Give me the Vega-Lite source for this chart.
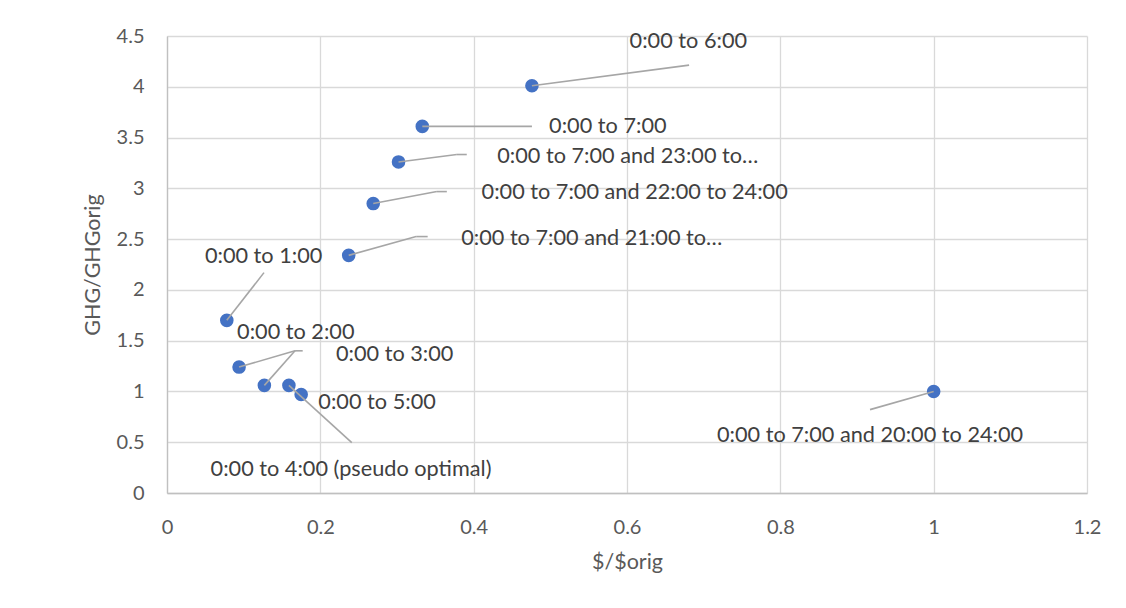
{
  "$schema": "https://vega.github.io/schema/vega-lite/v6.json",
  "width": 920,
  "height": 457,
  "autosize": {"type": "none"},
  "padding": {"left": 167, "top": 36, "right": 39, "bottom": 115},
  "background": "white",
  "config": {
    "view": {"stroke": null},
    "font": "Lato",
    "axis": {
      "gridColor": "#d9d9d9",
      "gridWidth": 1.3,
      "domainColor": "#c0c0c0",
      "domainWidth": 1.3,
      "ticks": false,
      "labelFont": "Lato",
      "labelFontSize": 20,
      "labelColor": "#595959",
      "titleFont": "Lato",
      "titleFontSize": 21.5,
      "titleFontWeight": "normal",
      "titleColor": "#595959"
    }
  },
  "data": {
    "values": [
      {"x": 0.476, "y": 4.01, "label": "0:00 to 6:00", "lx": 0.680, "ly": 4.446, "ex": 0.681, "ey": 4.213, "ex2": null},
      {"x": 0.333, "y": 3.61, "label": "0:00 to 7:00", "lx": 0.575, "ly": 3.614, "ex": 0.476, "ey": 3.61, "ex2": null},
      {"x": 0.302, "y": 3.26, "label": "0:00 to 7:00 and 23:00 to…", "lx": 0.601, "ly": 3.323, "ex": 0.378, "ey": 3.333, "ex2": 0.391},
      {"x": 0.269, "y": 2.85, "label": "0:00 to 7:00 and 22:00 to 24:00", "lx": 0.610, "ly": 2.959, "ex": 0.352, "ey": 2.968, "ex2": 0.365},
      {"x": 0.237, "y": 2.34, "label": "0:00 to 7:00 and 21:00 to…", "lx": 0.554, "ly": 2.515, "ex": 0.325, "ey": 2.525, "ex2": 0.340},
      {"x": 0.078, "y": 1.70, "label": "0:00 to 1:00", "lx": 0.126, "ly": 2.331, "ex": 0.1265, "ey": 2.170, "ex2": null},
      {"x": 0.094, "y": 1.24, "label": "0:00 to 2:00", "lx": 0.168, "ly": 1.582, "ex": 0.167, "ey": 1.40, "ex2": null},
      {"x": 0.127, "y": 1.06, "label": "0:00 to 3:00", "lx": 0.297, "ly": 1.372, "ex": 0.167, "ey": 1.40, "ex2": 0.177},
      {"x": 0.159, "y": 1.06, "label": "0:00 to 4:00 (pseudo optimal)", "lx": 0.240, "ly": 0.239, "ex": 0.241, "ey": 0.496, "ex2": null},
      {"x": 0.175, "y": 0.97, "label": "0:00 to 5:00", "lx": 0.274, "ly": 0.893, "ex": null, "ey": null, "ex2": null},
      {"x": 1.0, "y": 1.0, "label": "0:00 to 7:00 and 20:00 to 24:00", "lx": 0.917, "ly": 0.567, "ex": 0.917, "ey": 0.821, "ex2": null}
    ]
  },
  "encoding": {
    "x": {
      "field": "x", "type": "quantitative",
      "scale": {"domain": [0, 1.2], "nice": false, "zero": true},
      "axis": {"title": "$/$orig", "values": [0, 0.2, 0.4, 0.6, 0.8, 1, 1.2], "format": "~g", "labelPadding": 24, "titlePadding": 14, "labelFlush": false}
    },
    "y": {
      "field": "y", "type": "quantitative",
      "scale": {"domain": [0, 4.5], "nice": false, "zero": true},
      "axis": {"title": "GHG/GHGorig", "values": [0, 0.5, 1, 1.5, 2, 2.5, 3, 3.5, 4, 4.5], "format": "~g", "labelPadding": 23, "titlePadding": 12, "labelFlush": false, "domain": true}
    }
  },
  "layer": [
    {
      "mark": {"type": "circle", "size": 185, "opacity": 1, "color": "#4472C4"}
    },
    {
      "transform": [{"filter": "datum.ex != null"}],
      "mark": {"type": "rule", "color": "#a6a6a6", "strokeWidth": 1.6},
      "encoding": {
        "x2": {"field": "ex"},
        "y2": {"field": "ey"}
      }
    },
    {
      "transform": [{"filter": "datum.ex2 != null"}],
      "mark": {"type": "rule", "color": "#a6a6a6", "strokeWidth": 1.6},
      "encoding": {
        "x": {"field": "ex", "type": "quantitative"},
        "y": {"field": "ey", "type": "quantitative"},
        "x2": {"field": "ex2"},
        "y2": {"field": "ey"}
      }
    },
    {
      "mark": {"type": "text", "font": "Lato", "fontSize": 21.7, "color": "#404040", "align": "center", "baseline": "middle"},
      "encoding": {
        "x": {"field": "lx", "type": "quantitative"},
        "y": {"field": "ly", "type": "quantitative"},
        "text": {"field": "label"}
      }
    }
  ]
}
